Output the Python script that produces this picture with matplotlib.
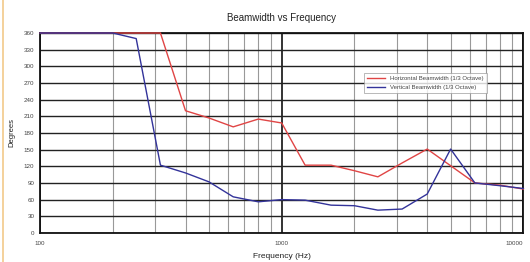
import matplotlib
matplotlib.use('Agg')
import matplotlib.pyplot as plt
from matplotlib.lines import Line2D

# 1/3-octave centre frequencies
freq = [100, 125, 160, 200, 250, 315, 400, 500, 630, 800, 1000,
        1250, 1600, 2000, 2500, 3150, 4000, 5000, 6300, 8000, 10000]
# beamwidth in degrees
horiz = [360, 360, 360, 360, 360, 360, 220, 207, 191, 205, 198,
         122, 122, 112, 101, 126, 151, 121, 90, 86, 79]
vert = [360, 360, 360, 360, 350, 122, 108, 92, 65, 56, 60,
        59, 50, 49, 41, 43, 70, 151, 90, 85, 80]

y_ticks = list(range(0, 361, 30))
x_ticks = [100, 1000, 10000]

plt.rcParams['font.family'] = ['Liberation Sans', 'DejaVu Sans']

fig = plt.figure(figsize=(5.3, 2.62), dpi=100)
ax = fig.add_axes([0.0755, 0.111, 0.912, 0.763])

ax.plot(freq, horiz, color='#e04545', lw=1.0,
        label='Horizontal Beamwidth (1/3 Octave)', zorder=5, clip_on=False)
ax.plot(freq, vert, color='#33339a', lw=1.0,
        label='Vertical Beamwidth (1/3 Octave)', zorder=6, clip_on=False)

ax.set_xscale('log')
ax.set_xlim(100, 10000)
ax.set_ylim(0, 360)
ax.set_yticks(y_ticks)
ax.set_yticklabels([str(v) for v in y_ticks])
ax.set_xticks(x_ticks)
ax.set_xticklabels([str(v) for v in x_ticks])
ax.xaxis.set_minor_formatter(matplotlib.ticker.NullFormatter())
ax.get_xticklabels()[-1].set_horizontalalignment('right')

ax.grid(True, which='major', axis='y', color='#222222', lw=1.0)
ax.grid(True, which='minor', axis='x', color='#999999', lw=0.8)
ax.grid(True, which='major', axis='x', color='#111111', lw=1.2)
ax.set_axisbelow(True)
for s in ax.spines.values():
    s.set_linewidth(1.3)
    s.set_color('#111111')
    s.set_zorder(4)

ax.tick_params(axis='both', which='both', length=0, labelsize=4.5,
               colors='#444444', pad=4)
ax.tick_params(axis='x', pad=6)

ax.set_title('Beamwidth vs Frequency', fontsize=7, color='#222222', pad=9)
ax.set_xlabel('Frequency (Hz)', fontsize=6, color='#222222', labelpad=5)
ax.set_ylabel('Degrees', fontsize=5.5, color='#222222', labelpad=6)

leg = ax.legend(loc='upper left', bbox_to_anchor=(0.665, 0.815),
                fontsize=4.3, frameon=True, fancybox=False,
                handlelength=3, borderpad=0.5, labelspacing=0.6,
                edgecolor='#999999')
leg.get_frame().set_linewidth(0.6)
leg.set_zorder(7)
for t in leg.get_texts():
    t.set_color('#444444')

# thin orange border at the left edge of the image
fig.add_artist(Line2D([0.006, 0.006], [0, 1], color='#f2c98a', lw=1.2))

fig.savefig('out.png', dpi=100)
